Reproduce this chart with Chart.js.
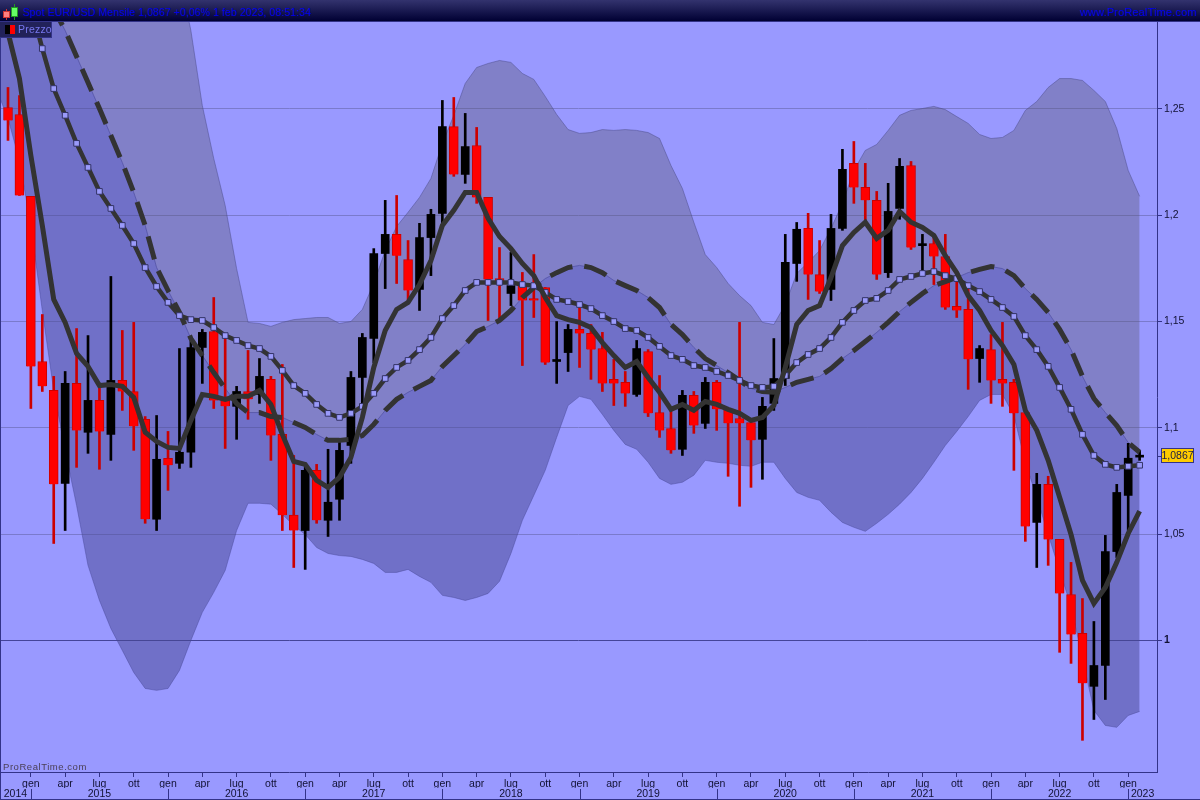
<!DOCTYPE html>
<html>
<head>
<meta charset="utf-8">
<title>Spot EUR/USD Mensile</title>
<script src="https://cdn.jsdelivr.net/npm/chart.js@4"></script>
<style>
    html, body { margin: 0; padding: 0; background: #9999ff; overflow: hidden; }
    body { width: 1200px; height: 800px; position: relative; font-family: "Liberation Sans", Arial, sans-serif; }
    canvas { position: absolute; left: 0; top: 0; }
    #header { position: absolute; left: 0; top: 0; width: 1200px; height: 21px; border-bottom: 1px solid #333388;
        background: linear-gradient(#33336e, #000033); }
    #title { position: absolute; left: 23px; top: 6px; font-size: 10.5px; letter-spacing: 0.08px; color: #0000e6; white-space: nowrap; }
    #site { position: absolute; right: 3px; top: 6px; font-size: 11px; letter-spacing: 0.15px; color: #0000e6; white-space: nowrap; }
    #iconRed { position: absolute; left: 3px; top: 11px; width: 5px; height: 5px; background: #ff8080; border: 1px solid #cc3333; }
    #iconRedWick { position: absolute; left: 6px; top: 9px; width: 1px; height: 11px; background: #cc3333; }
    #iconGreen { position: absolute; left: 11px; top: 7px; width: 5px; height: 8px; background: #66ff66; border: 1px solid #229922; }
    #iconGreenWick { position: absolute; left: 14px; top: 4px; width: 1px; height: 16px; background: #229922; }
    #legend { position: absolute; left: 0; top: 22px; width: 51px; height: 15px; background: #22225a; border: 1px solid #333388; border-width: 0 1px 1px 0; }
    #legend b { position: absolute; top: 3px; width: 5px; height: 9px; }
    #legend span { position: absolute; left: 18px; top: 1px; font-size: 10.5px; letter-spacing: 0.2px; color: #7777ee; }
    #brand { position: absolute; left: 3px; top: 761px; font-size: 9.5px; letter-spacing: 0.55px; color: #4a3f55; }
    #frame { position: absolute; left: 0; top: 22px; width: 1199px; height: 777px; border-left: 1px solid #333388; border-bottom: 1px solid #333388; pointer-events: none; }
</style>
</head>
<body>
<canvas id="chart" width="1200" height="800"></canvas>
<div id="header">
    <div id="iconRedWick"></div>
    <div id="iconRed"></div>
    <div id="iconGreenWick"></div>
    <div id="iconGreen"></div>
    <div id="title">Spot EUR/USD Mensile 1,0867 +0,06% 1 feb 2023, 08:51:34</div>
    <div id="site">www.ProRealTime.com</div>
</div>
<div id="frame"></div>
<div id="legend"><b style="left:5px;background:#000"></b><b style="left:10px;background:#f00"></b><span>Prezzo</span></div>
<div id="brand">ProRealTime.com</div>
<script>
// candles nov 2014 - feb 2023, one per month
var opens = [
    1.2507,1.2474,1.2089,1.1312,1.1176,1.0739,1.1209,1.0979,1.1129,1.0969,
    1.1223,1.1171,1.1040,1.0570,1.0857,1.0833,1.0885,1.1378,1.1453,1.1143,
    1.1101,1.1171,1.1157,1.1228,1.0969,1.0589,1.0517,1.0800,1.0565,1.0664,
    1.0917,1.1237,1.1420,1.1820,1.1910,1.1792,1.1651,1.1895,1.2009,1.2417,
    1.2192,1.2328,1.2084,1.1702,1.1632,1.1669,1.1604,1.1660,1.1312,1.1354,
    1.1463,1.1444,1.1373,1.1228,1.1214,1.1157,1.1359,1.1072,1.0997,1.0899,
    1.1153,1.1021,1.1214,1.1087,1.1044,1.1025,1.0946,1.1115,1.1232,1.1773,
    1.1938,1.1721,1.1651,1.1938,1.2244,1.2131,1.2070,1.1730,1.2032,1.2234,
    1.1857,1.1867,1.1806,1.1571,1.1557,1.1326,1.1368,1.1228,1.1214,1.1072,
    1.0555,1.0734,1.0475,1.0216,1.0033,0.9784,0.9882,1.0418,1.0682,1.0862
];
var closes = [
    1.2446,1.2093,1.1289,1.1195,1.0734,1.1209,1.0988,1.1129,1.0983,1.1223,
    1.1171,1.1007,1.0570,1.0852,1.0824,1.0885,1.1378,1.1449,1.1129,1.1101,
    1.1171,1.1134,1.1242,1.0964,1.0589,1.0517,1.0800,1.0565,1.0650,1.0894,
    1.1237,1.1425,1.1820,1.1910,1.1810,1.1646,1.1895,1.2004,1.2417,1.2192,
    1.2323,1.2084,1.1698,1.1688,1.1669,1.1599,1.1599,1.1307,1.1317,1.1463,
    1.1444,1.1368,1.1209,1.1209,1.1162,1.1373,1.1068,1.0988,1.0894,1.1153,
    1.1011,1.1214,1.1087,1.1021,1.1021,1.0941,1.1101,1.1232,1.1778,1.1934,
    1.1721,1.1641,1.1938,1.2216,1.2131,1.2070,1.1721,1.2018,1.2230,1.1848,
    1.1862,1.1806,1.1566,1.1552,1.1322,1.1373,1.1223,1.1209,1.1068,1.0536,
    1.0734,1.0475,1.0221,1.0028,0.9798,0.9882,1.0418,1.0696,1.0857,1.0867
];
var highs = [
    1.2601,1.2563,1.2089,1.1533,1.1242,1.1265,1.1467,1.1434,1.1190,1.1712,
    1.1458,1.1496,1.1053,1.1058,1.0983,1.1373,1.1411,1.1463,1.1613,1.1434,
    1.1195,1.1364,1.1326,1.1242,1.1298,1.0870,1.0833,1.0828,1.0899,1.0931,
    1.1265,1.1444,1.1843,1.2070,1.2093,1.1881,1.1962,1.2028,1.2540,1.2554,
    1.2479,1.2413,1.2084,1.1848,1.1825,1.1731,1.1815,1.1660,1.1500,1.1486,
    1.1571,1.1486,1.1449,1.1322,1.1265,1.1411,1.1368,1.1246,1.1082,1.1176,
    1.1171,1.1237,1.1223,1.1087,1.1496,1.1044,1.1143,1.1420,1.1910,1.1966,
    1.2009,1.1881,1.2004,1.2310,1.2347,1.2244,1.2112,1.2150,1.2267,1.2253,
    1.1910,1.1895,1.1910,1.1693,1.1669,1.1387,1.1439,1.1496,1.1228,1.1072,
    1.0786,1.0772,1.0475,1.0367,1.0197,1.0089,1.0494,1.0734,1.0927,1.0894
];
var lows = [
    1.2352,1.2093,1.1091,1.1171,1.0456,1.0517,1.0814,1.0880,1.0805,1.0847,
    1.1082,1.0894,1.0551,1.0517,1.0706,1.0809,1.0814,1.1209,1.1091,1.0903,
    1.0946,1.1040,1.1115,1.0847,1.0517,1.0343,1.0334,1.0551,1.0489,1.0565,
    1.0833,1.1105,1.1307,1.1655,1.1679,1.1599,1.1552,1.1716,1.1962,1.2183,
    1.2150,1.2056,1.1505,1.1500,1.1575,1.1293,1.1519,1.1298,1.1209,1.1265,
    1.1284,1.1228,1.1171,1.1105,1.1101,1.1148,1.1053,1.0955,1.0880,1.0870,
    1.0974,1.0997,1.0988,1.0772,1.0631,1.0720,1.0758,1.1082,1.1199,1.1689,
    1.1604,1.1632,1.1599,1.1929,1.2056,1.1967,1.1698,1.1707,1.1981,1.1839,
    1.1740,1.1674,1.1557,1.1519,1.1181,1.1214,1.1115,1.1101,1.0800,1.0466,
    1.0343,1.0353,0.9944,0.9892,0.9530,0.9628,0.9722,1.0390,1.0517,1.0847
];

// thick solid average
var fastLine = [
    1.2859,1.2643,1.2281,1.1952,1.1604,1.1496,1.1350,1.1289,1.1199,1.1204,
    1.1195,1.1143,1.0979,1.0936,1.0908,1.0903,1.1035,1.1157,1.1148,1.1134,
    1.1148,1.1148,1.1176,1.1110,1.0969,1.0842,1.0828,1.0753,1.0720,1.0767,
    1.0861,1.1049,1.1284,1.1458,1.1557,1.1590,1.1674,1.1787,1.1952,1.2023,
    1.2107,1.2107,1.1986,1.1900,1.1843,1.1773,1.1716,1.1613,1.1528,1.1509,
    1.1496,1.1472,1.1401,1.1340,1.1284,1.1312,1.1237,1.1167,1.1087,1.1110,
    1.1082,1.1124,1.1110,1.1087,1.1068,1.1035,1.1049,1.1105,1.1284,1.1486,
    1.1552,1.1575,1.1707,1.1857,1.1919,1.1967,1.1891,1.1929,1.2018,1.1967,
    1.1943,1.1905,1.1810,1.1730,1.1622,1.1552,1.1458,1.1387,1.1298,1.1082,
    1.0988,1.0847,1.0673,1.0498,1.0282,1.0174,1.0249,1.0367,1.0503,1.0608
];
// line with the little squares
var squareLine = [
    1.3480,1.3245,1.2987,1.2784,1.2596,1.2470,1.2338,1.2225,1.2112,1.2032,
    1.1952,1.1867,1.1754,1.1665,1.1590,1.1528,1.1509,1.1505,1.1472,1.1434,
    1.1411,1.1387,1.1373,1.1336,1.1270,1.1199,1.1162,1.1110,1.1068,1.1049,
    1.1068,1.1101,1.1162,1.1232,1.1284,1.1317,1.1368,1.1425,1.1514,1.1575,
    1.1646,1.1684,1.1684,1.1684,1.1684,1.1674,1.1669,1.1637,1.1604,1.1594,
    1.1580,1.1561,1.1528,1.1500,1.1467,1.1458,1.1425,1.1383,1.1340,1.1322,
    1.1293,1.1284,1.1265,1.1246,1.1223,1.1199,1.1190,1.1195,1.1246,1.1307,
    1.1345,1.1373,1.1425,1.1496,1.1552,1.1599,1.1609,1.1646,1.1698,1.1712,
    1.1726,1.1735,1.1716,1.1702,1.1669,1.1641,1.1604,1.1566,1.1524,1.1434,
    1.1368,1.1289,1.1190,1.1087,1.0969,1.0870,1.0828,1.0814,1.0819,1.0824
];
// dashed line, also the middle of the band
var dashLine = [
    1.3480,1.3340,1.3200,1.3080,1.2972,1.2869,1.2747,1.2624,1.2502,1.2375,
    1.2248,1.2107,1.1952,1.1754,1.1646,1.1543,1.1420,1.1340,1.1260,1.1185,
    1.1115,1.1072,1.1072,1.1053,1.1049,1.1025,1.1002,1.0969,1.0941,1.0941,
    1.0946,1.0964,1.1016,1.1082,1.1134,1.1167,1.1195,1.1223,1.1289,1.1340,
    1.1392,1.1453,1.1477,1.1505,1.1552,1.1613,1.1660,1.1702,1.1730,1.1754,
    1.1764,1.1754,1.1730,1.1693,1.1669,1.1646,1.1613,1.1566,1.1486,1.1439,
    1.1378,1.1326,1.1293,1.1260,1.1223,1.1185,1.1171,1.1167,1.1190,1.1214,
    1.1228,1.1242,1.1279,1.1326,1.1364,1.1406,1.1449,1.1496,1.1547,1.1590,
    1.1632,1.1669,1.1688,1.1707,1.1730,1.1745,1.1759,1.1749,1.1716,1.1655,
    1.1604,1.1543,1.1463,1.1368,1.1242,1.1138,1.1072,1.1011,1.0931,1.0885
];
var upperBand = [
    1.5200,1.5100,1.5000,1.4900,1.4800,1.4700,1.4600,1.4500,1.4400,1.4300,
    1.4200,1.4100,1.3850,1.3600,1.3350,1.3128,1.2869,1.2516,1.2267,1.2046,
    1.1749,1.1496,1.1491,1.1477,1.1496,1.1509,1.1514,1.1519,1.1519,1.1491,
    1.1500,1.1557,1.1679,1.1834,1.1947,1.2014,1.2084,1.2173,1.2338,1.2470,
    1.2620,1.2695,1.2714,1.2728,1.2719,1.2667,1.2639,1.2559,1.2474,1.2403,
    1.2385,1.2389,1.2403,1.2399,1.2403,1.2399,1.2389,1.2361,1.2234,1.2126,
    1.1967,1.1815,1.1754,1.1679,1.1622,1.1575,1.1496,1.1486,1.1580,1.1726,
    1.1778,1.1834,1.1938,1.2056,1.2211,1.2305,1.2333,1.2399,1.2470,1.2493,
    1.2502,1.2512,1.2497,1.2464,1.2432,1.2380,1.2361,1.2366,1.2399,1.2493,
    1.2535,1.2601,1.2643,1.2643,1.2634,1.2587,1.2535,1.2408,1.2211,1.2089
];
var lowerBand = [
    1.2455,1.2258,1.1952,1.1552,1.1176,1.0894,1.0635,1.0353,1.0188,1.0056,
    0.9953,0.9849,0.9774,0.9765,0.9774,0.9859,1.0000,1.0132,1.0226,1.0329,
    1.0517,1.0645,1.0645,1.0641,1.0593,1.0541,1.0498,1.0437,1.0409,1.0399,
    1.0395,1.0381,1.0362,1.0320,1.0320,1.0334,1.0301,1.0273,1.0212,1.0202,
    1.0188,1.0202,1.0221,1.0278,1.0409,1.0565,1.0682,1.0800,1.0955,1.1105,
    1.1148,1.1134,1.1063,1.0988,1.0922,1.0899,1.0838,1.0762,1.0734,1.0744,
    1.0777,1.0847,1.0838,1.0833,1.0824,1.0819,1.0838,1.0838,1.0762,1.0696,
    1.0673,1.0659,1.0603,1.0555,1.0532,1.0513,1.0551,1.0593,1.0641,1.0696,
    1.0762,1.0838,1.0917,1.0983,1.1053,1.1129,1.1157,1.1157,1.1058,1.0838,
    1.0673,1.0498,1.0329,1.0160,0.9915,0.9671,0.9600,0.9591,0.9647,0.9666
];

// month before the first candle, only its lines reach into the picture
var fastBefore = 1.3100;
var squareBefore = 1.3700;
var dashBefore = 1.3620;
var upperBefore = 1.5300;
var lowerBefore = 1.2590;

var priceTicks = [1, 1.05, 1.1, 1.15, 1.2, 1.25];
var monthNames = ["gen", "apr", "lug", "ott"];
var yearLabels = ["2014", "2015", "2016", "2017", "2018", "2019", "2020", "2021", "2022", "2023"];

// x axis runs on candle number: candle 2 is gen 2015
var firstGen = 2;
var xMin = -0.7;
var xMax = 100.52;

function xy(values, before) {
    var points = values.map(function(v, i) {
        return { x: i, y: v };
    });
    points.unshift({ x: -1, y: before });
    return points;
}

function ranges(a, b) {
    return a.map(function(v, i) {
        return { x: i, y: [Math.min(v, b[i]), Math.max(v, b[i])] };
    });
}

function isDown(i) {
    return closes[i] < opens[i];
}

var bodies = ranges(opens, closes);
var downBodies = bodies.filter(function(b) {
    return isDown(b.x);
});
var upBodies = bodies.filter(function(b) {
    return !isDown(b.x);
});

var monthTicks = [];
for (var m = firstGen; m < closes.length; m += 3) {
    monthTicks.push(m);
}

var yearEdges = [xMin];
for (var y = firstGen; y < xMax; y += 12) {
    yearEdges.push(y);
}
yearEdges.push(xMax);

var yearMiddles = yearLabels.map(function(label, i) {
    return (yearEdges[i] + yearEdges[i + 1]) / 2;
});

var frameLines = {
    id: "frameLines",
    afterDraw: function(chart) {
        var ctx = chart.ctx;
        var x = chart.scales.x;
        var p = chart.scales.y;

        // year separators under the month labels
        ctx.save();
        ctx.strokeStyle = "#333388";
        ctx.lineWidth = 1;
        for (var i = 1; i < yearEdges.length - 1; i++) {
            var px = Math.round(x.getPixelForValue(yearEdges[i])) + 0.5;
            ctx.beginPath();
            ctx.moveTo(px, 789);
            ctx.lineTo(px, 799);
            ctx.stroke();
        }

        // last price box
        var last = closes[closes.length - 1];
        var py = Math.round(p.getPixelForValue(last));
        ctx.beginPath();
        ctx.moveTo(chart.chartArea.right, py + 0.5);
        ctx.lineTo(chart.chartArea.right + 5, py + 0.5);
        ctx.stroke();
        ctx.fillStyle = "#ffcc00";
        ctx.fillRect(1161.5, py - 7.5, 32, 14);
        ctx.strokeRect(1161.5, py - 7.5, 32, 14);
        ctx.fillStyle = "#222244";
        ctx.font = "10.5px 'Liberation Sans'";
        ctx.textAlign = "center";
        ctx.textBaseline = "middle";
        ctx.fillText(last.toFixed(4).replace(".", ","), 1177.5, py);
        ctx.restore();
    }
};

var chart = new Chart(document.getElementById("chart").getContext("2d"), {
    type: "line",
    data: {
        datasets: [
            {
                label: "upper",
                data: xy(upperBand, upperBefore),
                borderColor: "rgba(70,70,130,0.45)",
                borderWidth: 1,
                pointRadius: 0,
                fill: 1,
                backgroundColor: "rgba(93,91,118,0.4)",
                order: 9
            },
            {
                label: "middle",
                data: xy(dashLine, dashBefore),
                borderColor: "rgba(70,70,150,0.6)",
                borderWidth: 1,
                pointRadius: 0,
                fill: false,
                order: 8
            },
            {
                label: "lower",
                data: xy(lowerBand, lowerBefore),
                borderColor: "rgba(70,70,150,0.45)",
                borderWidth: 1,
                pointRadius: 0,
                fill: 1,
                backgroundColor: "rgba(71,71,145,0.5)",
                order: 9
            },
            {
                type: "bar",
                label: "wick",
                data: ranges(lows, highs),
                barThickness: 2,
                grouped: false,
                backgroundColor: function(c) {
                    return isDown(c.dataIndex) ? "#cc0000" : "#000000";
                },
                order: 7
            },
            {
                type: "bar",
                label: "Prezzo giu",
                data: downBodies,
                barThickness: 9,
                grouped: false,
                minBarLength: 2,
                backgroundColor: "#ff0000",
                borderColor: "#cc0000",
                borderWidth: 1,
                order: 6
            },
            {
                type: "bar",
                label: "Prezzo su",
                data: upBodies,
                barThickness: 8,
                grouped: false,
                minBarLength: 2,
                backgroundColor: "#000000",
                order: 6
            },
            {
                label: "dashed",
                data: xy(dashLine, dashBefore),
                borderColor: "#333333",
                borderWidth: 5,
                borderDash: [24, 12],
                pointRadius: 0,
                fill: false,
                order: 5
            },
            {
                label: "squares",
                data: xy(squareLine, squareBefore),
                borderColor: "#333333",
                borderWidth: 4.5,
                pointStyle: "rect",
                pointRadius: 4,
                pointBackgroundColor: "#9a9afa",
                pointBorderColor: "#333366",
                pointBorderWidth: 1,
                fill: false,
                order: 4
            },
            {
                label: "solid",
                data: xy(fastLine, fastBefore),
                borderColor: "#333333",
                borderWidth: 5,
                pointRadius: 0,
                fill: false,
                order: 3
            }
        ]
    },
    options: {
        responsive: false,
        animation: false,
        devicePixelRatio: 1,
        parsing: { xAxisKey: "x", yAxisKey: "y" },
        layout: { autoPadding: false, padding: { top: 22, left: 0, right: 0, bottom: 0 } },
        plugins: {
            legend: { display: false },
            tooltip: { enabled: false },
            title: { display: false }
        },
        scales: {
            x: {
                type: "linear",
                position: "bottom",
                weight: 1,
                min: xMin,
                max: xMax,
                offset: false,
                afterBuildTicks: function(axis) {
                    axis.ticks = monthTicks.map(function(v) {
                        return { value: v };
                    });
                },
                afterFit: function(axis) {
                    axis.height = 16;
                    axis.paddingLeft = 0;
                    axis.paddingRight = 0;
                },
                grid: {
                    offset: false,
                    drawOnChartArea: false,
                    tickLength: 5,
                    tickColor: "#333388"
                },
                border: { color: "#333388" },
                ticks: {
                    autoSkip: false,
                    maxRotation: 0,
                    padding: 1,
                    color: "#111133",
                    font: { family: "Liberation Sans", size: 10.5 },
                    callback: function(value) {
                        var k = Math.round((value - firstGen) / 3) % 4;
                        return monthNames[k];
                    }
                }
            },
            years: {
                type: "linear",
                position: "bottom",
                weight: 2,
                min: xMin,
                max: xMax,
                afterBuildTicks: function(axis) {
                    axis.ticks = yearMiddles.map(function(v) {
                        return { value: v };
                    });
                },
                afterFit: function(axis) {
                    axis.height = 12;
                    axis.paddingLeft = 0;
                    axis.paddingRight = 0;
                },
                grid: { display: false, drawTicks: false },
                border: { display: false },
                ticks: {
                    autoSkip: false,
                    maxRotation: 0,
                    padding: 0,
                    color: "#111133",
                    font: { family: "Liberation Sans", size: 10.5 },
                    callback: function(value, index) {
                        return yearLabels[index];
                    }
                }
            },
            y: {
                type: "linear",
                position: "right",
                min: 0.9381,
                max: 1.2909,
                afterBuildTicks: function(axis) {
                    axis.ticks = priceTicks.map(function(v) {
                        return { value: v };
                    });
                },
                afterFit: function(axis) {
                    axis.width = 43;
                    axis.paddingTop = 0;
                    axis.paddingBottom = 0;
                },
                grid: {
                    tickLength: 5,
                    color: function(c) {
                        return c.tick && c.tick.value === 1 ? "#444499" : "#7a7acc";
                    },
                    tickColor: "#333388"
                },
                border: { color: "#333388" },
                ticks: {
                    padding: 2,
                    color: "#111133",
                    autoSkip: false,
                    font: function(c) {
                        return {
                            family: "Liberation Sans",
                            size: 10.5,
                            weight: c.tick && c.tick.value === 1 ? "bold" : "normal"
                        };
                    },
                    callback: function(value) {
                        return String(value).replace(".", ",");
                    }
                }
            }
        }
    },
    plugins: [frameLines]
});
</script>
</body>
</html>
